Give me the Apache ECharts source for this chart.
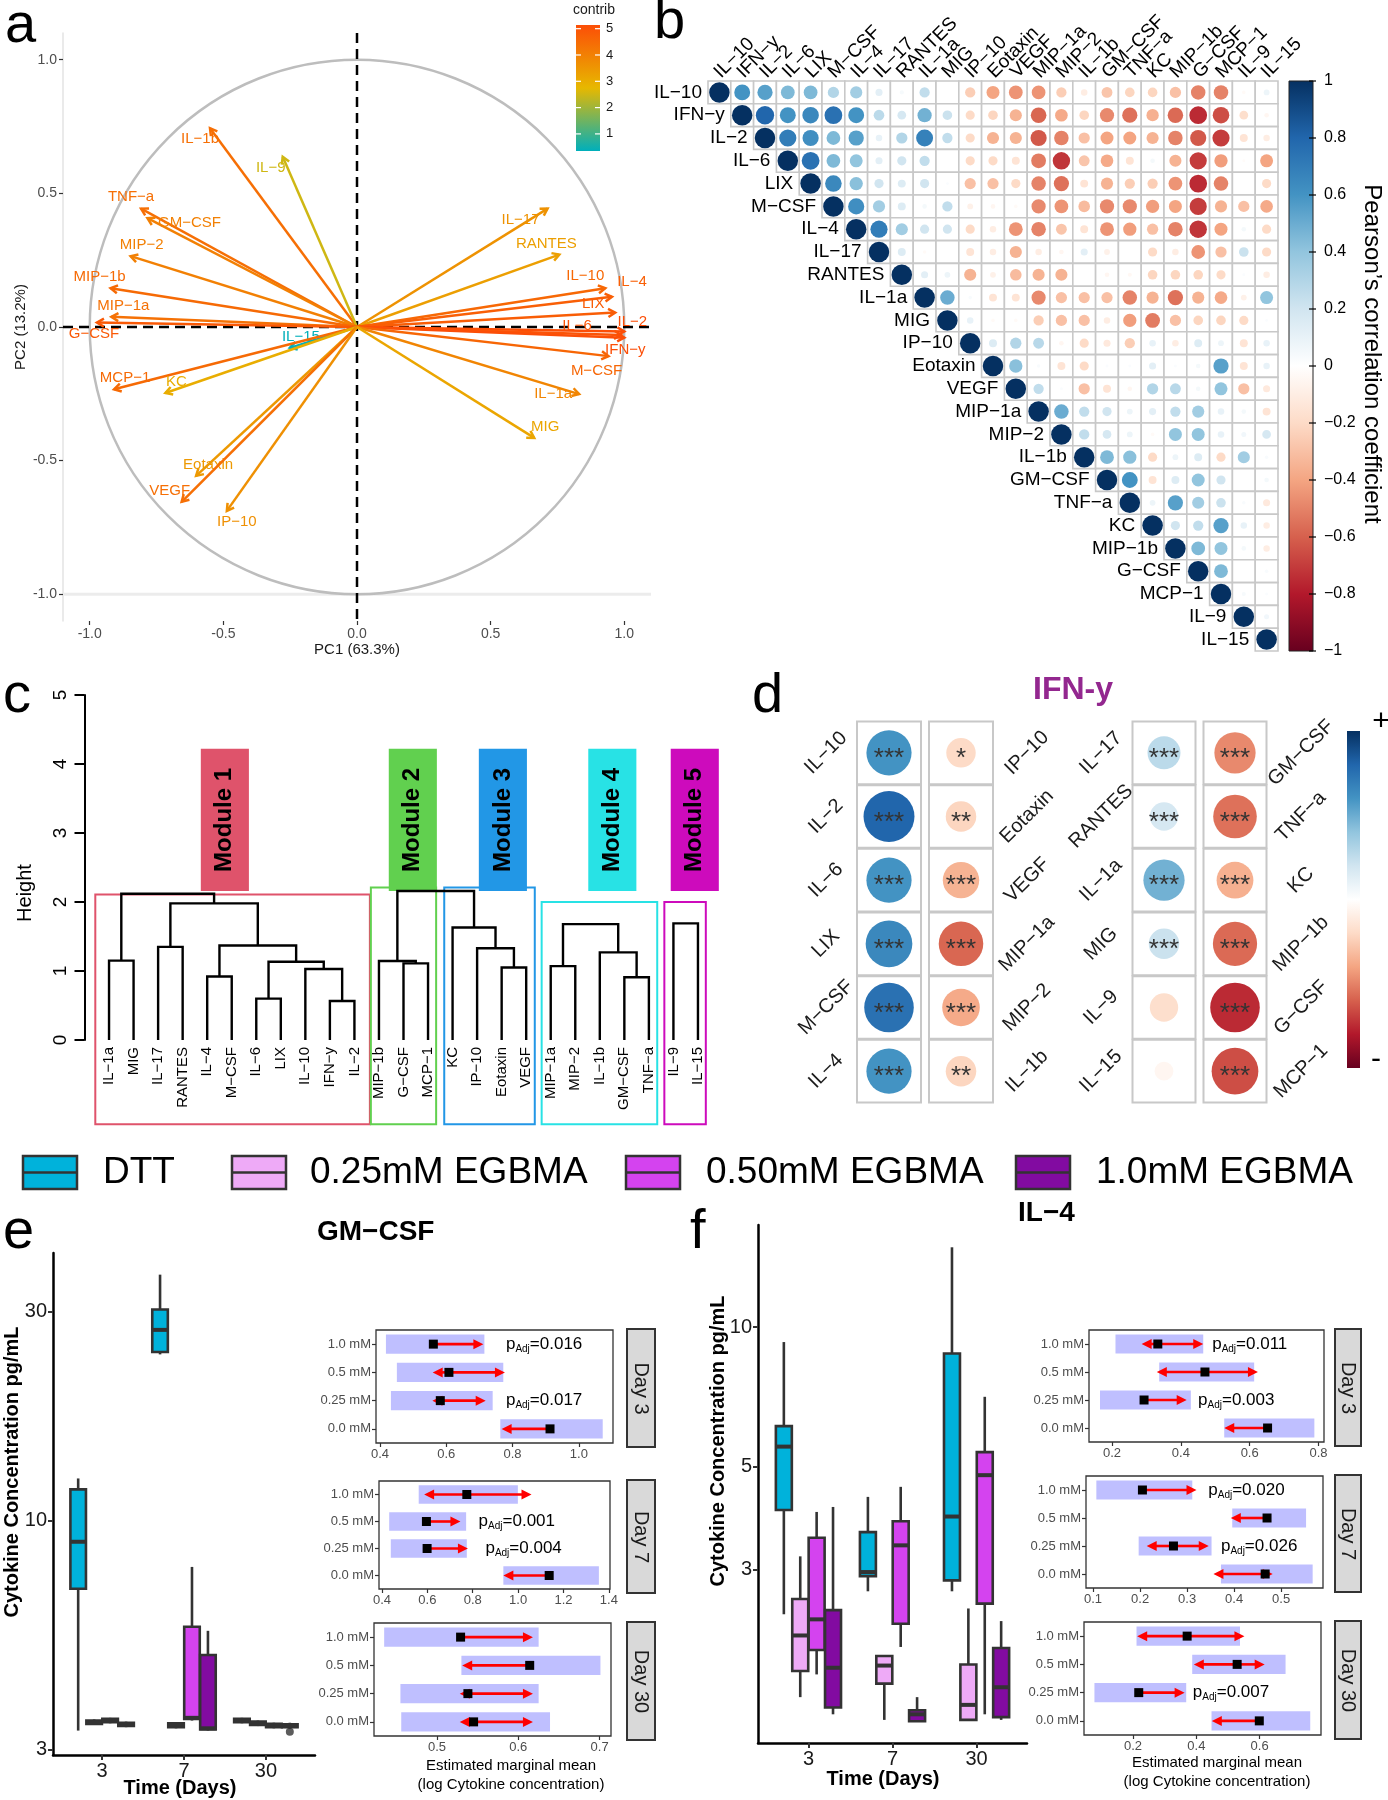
<!DOCTYPE html>
<html><head><meta charset="utf-8">
<script src="https://cdn.jsdelivr.net/npm/echarts@6.0.0/dist/echarts.min.js"></script>
<style>html,body{margin:0;padding:0;background:#fff;}#chart{width:1388px;height:1800px;}</style>
</head><body><div id="chart"></div>
<script>
// ======================= DATA =======================
// ---- Panel a : PCA variable loadings ----
const pcaVars = ['IL-1b','IL-9','TNF-a','GM-CSF','MIP-2','MIP-1b','MIP-1a','G-CSF','IL-15','MCP-1','KC','Eotaxin','VEGF','IP-10','IL-17','RANTES','IL-10','IL-4','LIX','IL-2','IL-6','IFN-y','M-CSF','IL-1a','MIG'];
const pcaDim1 = [-0.55,-0.278,-0.808,-0.784,-0.847,-0.922,-0.919,-0.973,-0.251,-0.909,-0.717,-0.602,-0.656,-0.487,0.713,0.757,0.929,0.954,0.966,1.0,0.988,1.0,0.941,0.831,0.663];
const pcaDim2 = [0.744,0.637,0.443,0.407,0.265,0.145,0.038,0.017,-0.078,-0.233,-0.247,-0.557,-0.654,-0.688,0.443,0.271,0.145,0.113,0.054,-0.017,-0.03,-0.04,-0.109,-0.251,-0.415];
const pcaContrib = [4.4,2.5,4.4,4.0,4.0,4.5,4.35,4.9,0.36,4.5,3.0,3.45,4.4,3.65,3.6,3.3,4.55,4.75,4.8,5.14,5.0,5.14,4.6,3.9,3.15];
const pcaTicks = [-1,-0.5,0,0.5,1];
const contribRange = [0.35,5.14];
const contribTicks = [1,2,3,4,5];
const pcaTitles = ['PC1 (63.3%)','PC2 (13.2%)'];

// ---- Panel b : Pearson correlation (upper triangle, row i from column i) ----
const corrVars = ['IL-10','IFN-y','IL-2','IL-6','LIX','M-CSF','IL-4','IL-17','RANTES','IL-1a','MIG','IP-10','Eotaxin','VEGF','MIP-1a','MIP-2','IL-1b','GM-CSF','TNF-a','KC','MIP-1b','G-CSF','MCP-1','IL-9','IL-15'];
const corrUpper = [
 [1,0.6,0.55,0.45,0.45,0.3,0.35,0.12,0.04,0.25,0.0,-0.25,-0.4,-0.45,-0.45,-0.25,-0.1,-0.28,-0.22,-0.22,-0.3,-0.5,-0.5,-0.03,0.08],
 [1,0.8,0.6,0.65,0.75,0.6,0.27,0.18,0.48,0.22,-0.2,-0.22,-0.35,-0.58,-0.38,-0.22,-0.48,-0.55,-0.36,-0.57,-0.75,-0.65,-0.18,-0.05],
 [1,0.7,0.62,0.45,0.55,0.1,0.3,0.68,0.25,-0.2,-0.35,-0.35,-0.62,-0.5,-0.3,-0.4,-0.4,-0.35,-0.5,-0.62,-0.7,-0.15,-0.1],
 [1,0.75,0.45,0.4,0.12,0.2,0.25,0.0,-0.2,-0.2,-0.15,-0.52,-0.72,-0.28,-0.38,-0.15,0.05,-0.35,-0.7,-0.42,-0.02,-0.4],
 [1,0.65,0.42,0.2,0.15,0.2,0.02,-0.3,-0.3,-0.2,-0.5,-0.55,-0.15,-0.35,-0.25,-0.25,-0.45,-0.75,-0.5,0.0,-0.2],
 [1,0.62,0.35,0.15,0.05,0.25,-0.08,-0.05,-0.03,-0.48,-0.45,-0.32,-0.48,-0.48,-0.42,-0.4,-0.7,-0.35,-0.3,-0.38],
 [1,0.7,0.35,0.2,0.2,-0.2,-0.1,-0.45,-0.5,-0.28,-0.15,-0.45,-0.42,-0.3,-0.5,-0.72,-0.4,0.05,-0.2],
 [1,0.15,-0.03,0.0,-0.15,-0.1,-0.35,-0.1,-0.05,0.12,-0.08,0.0,-0.2,-0.1,-0.45,-0.3,0.22,-0.2],
 [1,0.12,0.08,-0.35,-0.08,-0.32,-0.35,-0.35,0.0,-0.05,-0.04,-0.22,-0.22,-0.22,-0.2,0.02,-0.1],
 [1,0.5,0.03,-0.15,-0.15,-0.48,-0.3,-0.3,-0.3,-0.5,-0.35,-0.55,-0.35,-0.38,-0.08,0.4],
 [1,0.1,-0.03,-0.03,-0.25,-0.3,-0.3,-0.1,-0.42,-0.52,-0.3,-0.22,-0.22,-0.2,0.02],
 [1,0.15,0.3,0.28,-0.05,-0.2,-0.12,-0.25,0.1,-0.1,0.15,0.08,-0.15,0.1],
 [1,0.42,0.03,-0.15,-0.2,0.02,0.02,0.12,0.02,0.05,0.55,-0.15,0.1],
 [1,0.25,0.02,-0.3,-0.15,-0.05,0.3,0.28,0.05,0.4,-0.3,-0.12],
 [1,0.5,0.25,0.2,0.08,0.12,0.25,0.35,0.1,0.05,-0.15],
 [1,0.25,0.18,0.08,-0.03,0.4,0.4,0.1,0.06,0.18],
 [1,0.45,0.42,-0.2,0.08,0.15,-0.2,0.35,0.03],
 [1,0.6,-0.15,0.15,0.4,0.2,0.0,0.05],
 [1,0.08,0.55,0.35,0.22,0.03,-0.12],
 [1,0.2,0.25,0.55,0.1,-0.1],
 [1,0.45,0.4,0.05,-0.1],
 [1,0.45,0.0,0.03],
 [1,0.04,0.02],
 [1,0.06],
 [1]
];
const corrTicks = [1,0.8,0.6,0.4,0.2,0,-0.2,-0.4,-0.6,-0.8,-1];

// ---- Panel c : hierarchical clustering ----
const leafOrder = ['IL-1a','MIG','IL-17','RANTES','IL-4','M-CSF','IL-6','LIX','IL-10','IFN-y','IL-2','MIP-1b','G-CSF','MCP-1','KC','IP-10','Eotaxin','VEGF','MIP-1a','MIP-2','IL-1b','GM-CSF','TNF-a','IL-9','IL-15'];
// [childA, childB, height] ; string = leaf, number = index of an earlier merge
const dendroMerges = [
 ['IFN-y','IL-2',0.565],['IL-6','LIX',0.60],['GM-CSF','TNF-a',0.91],['IL-4','M-CSF',0.92],
 ['IL-10',0,1.03],['Eotaxin','VEGF',1.05],['MIP-1a','MIP-2',1.07],['G-CSF','MCP-1',1.11],
 [1,4,1.135],['MIP-1b',7,1.145],['IL-1a','MIG',1.15],['IL-1b',2,1.27],['IP-10',5,1.33],
 ['IL-17','RANTES',1.35],[3,8,1.37],['KC',12,1.63],[6,11,1.68],['IL-9','IL-15',1.69],
 [13,14,1.98],[10,18,2.12],[9,15,2.16]
];
const moduleNames = ['Module 1','Module 2','Module 3','Module 4','Module 5'];
const moduleSpan = [[-0.56,10.63],[10.67,13.33],[13.66,17.35],[17.63,22.34],[22.63,24.32]];
const moduleCut = [2.11,2.21,2.21,2.0,2.0];
const heightTicks = [0,1,2,3,4,5];

// ---- Panel d : correlations with IFN-y ----
const dFocal = 'IFN-y';
const dCol1 = ['IL-10','IL-2','IL-6','LIX','M-CSF','IL-4'];
const dCol2 = ['IP-10','Eotaxin','VEGF','MIP-1a','MIP-2','IL-1b'];
const dCol3 = ['IL-17','RANTES','IL-1a','MIG','IL-9','IL-15'];
const dCol4 = ['GM-CSF','TNF-a','KC','MIP-1b','G-CSF','MCP-1'];
const dStars1 = ['***','***','***','***','***','***'];
const dStars2 = ['*','**','***','***','***','**'];
const dStars3 = ['***','***','***','***','',''];
const dStars4 = ['***','***','***','***','***','***'];

// ---- Panels e, f : cytokine concentration boxplots (min, Q1, median, Q3, max) ----
const days = ['3','7','30'];
const groups = ['DTT','0.25mM EGBMA','0.50mM EGBMA','1.0mM EGBMA'];
const gmDTT = [[3.32,7.0,8.96,11.8,12.5],[24.0,24.3,27.3,30.4,36.5],[3.45,3.47,3.50,3.53,3.55]];
const gm025 = [[3.42,3.44,3.47,3.50,3.52],[3.36,3.38,3.42,3.45,3.47],[3.40,3.42,3.45,3.48,3.50]];
const gm050 = [[3.45,3.47,3.50,3.53,3.55],[3.50,3.53,3.55,5.73,7.85],[3.36,3.38,3.41,3.44,3.46]];
const gm100 = [[3.38,3.40,3.43,3.46,3.48],[3.32,3.34,3.36,4.94,5.61],[3.35,3.38,3.40,3.43,3.46]];
const gmOutliers = [[2,3,3.30]]; // [day index, group index, value]
const gmTicks = [3,10,30];
const gmRange = [2.92,40.9];
const il4DTT = [[2.40,4.03,5.52,6.11,9.28],[2.69,2.90,2.96,3.61,4.30],[2.69,2.84,3.90,8.77,14.86]];
const il4025 = [[1.59,1.81,2.16,2.59,3.20],[1.42,1.70,1.86,1.95,1.96],[1.42,1.42,1.53,1.87,2.47]];
const il4050 = [[1.78,2.01,2.34,3.51,3.99],[2.04,2.29,3.38,3.81,4.52],[1.46,2.53,4.79,5.37,7.07]];
const il4100 = [[1.46,1.51,1.84,2.45,4.09],[1.41,1.41,1.46,1.49,1.59],[1.42,1.44,1.67,2.03,2.32]];
const il4Ticks = [3,5,10];
const il4Range = [1.266,16.6];

// ---- estimated marginal means (levels bottom->top), CI and comparison arrows ----
const emmLevels = ['0.0 mM','0.25 mM','0.5 mM','1.0 mM'];
const gmDay3  = {mean:[0.913,0.582,0.608,0.561], lcl:[0.763,0.433,0.451,0.418], ucl:[1.072,0.740,0.772,0.715], lo:[0.767,0.558,0.559,null], hi:[null,0.719,0.777,0.712]};
const gmDay7  = {mean:[1.137,0.599,0.596,0.774], lcl:[0.935,0.439,0.432,0.562], ucl:[1.356,0.774,0.771,0.999], lo:[0.935,null,null,0.586], hi:[null,0.779,0.746,1.059]};
const gmDay30 = {mean:[0.545,0.538,0.614,0.529], lcl:[0.456,0.455,0.530,0.435], ucl:[0.639,0.625,0.701,0.625], lo:[0.528,0.528,0.531,null], hi:[0.618,0.618,null,0.618]};
const il4Day3  = {mean:[0.652,0.293,0.470,0.333], lcl:[0.526,0.165,0.337,0.210], ucl:[0.788,0.429,0.613,0.465], lo:[0.526,null,0.330,0.286], hi:[null,0.417,0.624,0.465]};
const il4Day7  = {mean:[0.466,0.271,0.470,0.205], lcl:[0.372,0.197,0.396,0.107], ucl:[0.567,0.352,0.553,0.311], lo:[0.356,0.214,0.393,null], hi:[0.482,0.346,null,0.320]};
const il4Day30 = {mean:[0.599,0.218,0.529,0.371], lcl:[0.448,0.078,0.387,0.211], ucl:[0.760,0.368,0.682,0.538], lo:[0.449,null,0.392,0.213], hi:[null,0.363,0.616,0.552]};
// adjusted p-values: [x (emmean scale), level index, value]
const gmDay3P = [[0.78,3,'0.016'],[0.78,1,'0.017']];
const gmDay7P = [[0.826,2,'0.001'],[0.856,1,'0.004']];
const il4Day3P = [[0.491,3,'0.011'],[0.450,1,'0.003']];
const il4Day7P = [[0.345,3,'0.020'],[0.372,1,'0.026']];
const il4Day30P = [[0.389,1,'0.007']];
const gmXTicks = [[0.4,0.6,0.8,1.0],[0.4,0.6,0.8,1.0,1.2,1.4],[0.5,0.6,0.7]];
const gmXRange = [[0.388,1.103],[0.387,1.405],[0.4225,0.714]];
const il4XTicks = [[0.2,0.4,0.6,0.8],[0.1,0.2,0.3,0.4,0.5],[0.2,0.4,0.6]];
const il4XRange = [[0.133,0.816],[0.085,0.589],[0.045,0.794]];

// ======================= STYLE / LAYOUT =======================
const FONT = '"Liberation Sans", Arial, Helvetica, sans-serif';
const minus = s => String(s).replace(/-/g, '\u2212');
const RDBU = ['#67001F','#B2182B','#D6604D','#F4A582','#FDDBC7','#FFFFFF','#D1E5F0','#92C5DE','#4393C3','#2166AC','#053061'];
const CONTRIB_COLORS = ['#00AFBB','#E7B800','#FC4E07'];
const groupColors = ['#00B2DB','#EEAAF7','#D443EF','#820BA1'];
const moduleColors = ['#DF536B','#61D04F','#2297E6','#28E2E5','#CD0BBC'];
const G = {
  a:{left:63,top:33,width:588,height:588},
  b:{left:708,top:81,width:570,height:570},
  c:{left:84.5,top:695,width:638,height:345},
  dL:{left:853,top:721,width:144,height:382},
  dR:{left:1128.5,top:721,width:142,height:382},
  eBox:{left:53,top:1253,width:262,height:502},
  eF1:{left:376,top:1330,width:237,height:113},
  eF2:{left:379,top:1481,width:231,height:108},
  eF3:{left:374,top:1623,width:237,height:113},
  fBox:{left:758,top:1225,width:269,height:518},
  fF1:{left:1089,top:1330,width:235,height:112},
  fF2:{left:1086,top:1476,width:237,height:112},
  fF3:{left:1084,top:1622,width:237,height:113}
};
const pcaLabelNudge = {
 'IL-1b':[-10,11],'IL-9':[-12,11],'TNF-a':[-10,-12],'GM-CSF':[42,5],'MIP-2':[11,-11],'MIP-1b':[-11,-11],
 'MIP-1a':[12,-11],'G-CSF':[-3,11],'IL-15':[11,-11],'MCP-1':[11,-11],'KC':[11,-11],'Eotaxin':[12,-11],
 'VEGF':[-12,-11],'IP-10':[10,11],'IL-17':[-27,11],'RANTES':[-13,-11],'IL-10':[-20,-12],'IL-4':[20,-15],
 'LIX':[-22,-9],'IL-2':[8,-10],'IL-6':[-44,-9],'IFN-y':[1,12],'M-CSF':[-12,15],'IL-1a':[-26,0],'MIG':[11,-11]
};
const BOX_DODGE = 0.195, BOX_W = 0.19;
const MODULE_BOX_BOTTOM = -1.22;
const moduleTagX = [4.72,12.38,16.05,20.51,23.87];
const moduleTagH = [2.16,4.22];

// ======================= BUILD =======================
const gridKeys = ['a','b','c','dL','dR','eBox','eF1','eF2','eF3','fBox','fF1','fF2','fF3'];
const grids = gridKeys.map(k => Object.assign({outerBoundsMode:'none', containLabel:false}, G[k]));
[6,7,8,10,11,12].forEach(i => Object.assign(grids[i], {show:true, borderColor:'#333', borderWidth:1.3, backgroundColor:'rgba(0,0,0,0)'}));
const xAxes = [], yAxes = [];
const hidden = {show:false};

// a
xAxes[0] = {gridIndex:0, type:'value', min:-1.1, max:1.1, splitLine:hidden, axisLine:{show:false, onZero:false},
  axisTick:{show:true, customValues:pcaTicks, length:4, lineStyle:{color:'#333', width:1.2}},
  axisLabel:{customValues:pcaTicks, formatter:v=>v.toFixed(1), color:'#4d4d4d', fontSize:14, fontFamily:FONT, margin:6}};
yAxes[0] = {gridIndex:0, type:'value', min:-1.1, max:1.1, splitLine:hidden, axisLine:{show:true, onZero:false, lineStyle:{color:'#e3e3e3', width:1.5}},
  axisTick:{show:true, customValues:pcaTicks, length:4, lineStyle:{color:'#333', width:1.2}},
  axisLabel:{customValues:pcaTicks, formatter:v=>v.toFixed(1), color:'#4d4d4d', fontSize:14, fontFamily:FONT, margin:6}};
// b
xAxes[1] = {gridIndex:1, type:'category', data:corrVars, show:false};
yAxes[1] = {gridIndex:1, type:'category', data:corrVars, inverse:true, show:false};
// c
xAxes[2] = {gridIndex:2, type:'value', min:-1, max:25, show:false};
yAxes[2] = {gridIndex:2, type:'value', min:0, max:5, splitLine:hidden,
  axisLine:{show:true, onZero:false, lineStyle:{color:'#000', width:2}},
  axisTick:{show:true, customValues:heightTicks, length:10, lineStyle:{color:'#000', width:2}},
  axisLabel:{customValues:heightTicks, rotate:90, fontSize:19, color:'#000', fontFamily:FONT, margin:14}};
// d
[3,4].forEach(i => {
  xAxes[i] = {gridIndex:i, type:'category', data:['l','r'], show:false};
  yAxes[i] = {gridIndex:i, type:'category', data:[0,1,2,3,4,5], inverse:true, show:false};
});
// boxplot axes
function boxX(gi){
  return {gridIndex:gi, type:'value', min:0.4, max:3.6, splitLine:hidden,
    axisLine:{show:true, onZero:false, lineStyle:{color:'#000', width:2.5}},
    axisTick:{show:true, customValues:[1,2,3], length:5, lineStyle:{color:'#333', width:2}},
    axisLabel:{customValues:[1,2,3], formatter:v=>days[Math.round(v)-1], color:'#1a1a1a', fontSize:20, fontFamily:FONT, margin:6}};
}
function boxY(gi, range, ticks){
  const tv = ticks.map(t => Math.log10(t));
  return {gridIndex:gi, type:'value', min:Math.log10(range[0]), max:Math.log10(range[1]), splitLine:hidden,
    axisLine:{show:true, onZero:false, lineStyle:{color:'#000', width:2.5}},
    axisTick:{show:true, customValues:tv, length:5, lineStyle:{color:'#333', width:2}},
    axisLabel:{customValues:tv, formatter:v=>String(Math.round(Math.pow(10,v))), color:'#1a1a1a', fontSize:20, fontFamily:FONT, margin:6}};
}
function emmX(gi, range, ticks){
  return {gridIndex:gi, type:'value', min:range[0], max:range[1], splitLine:hidden, axisLine:{show:false, onZero:false},
    axisTick:{show:true, customValues:ticks, length:4, lineStyle:{color:'#333', width:1.2}},
    axisLabel:{customValues:ticks, formatter:v=>v.toFixed(1), color:'#4d4d4d', fontSize:13, fontFamily:FONT, margin:5}};
}
function emmY(gi){
  return {gridIndex:gi, type:'category', data:emmLevels, splitLine:hidden, axisLine:{show:false, onZero:false},
    axisTick:{show:true, alignWithLabel:true, length:4, lineStyle:{color:'#333', width:1.2}},
    axisLabel:{color:'#4d4d4d', fontSize:13, fontFamily:FONT, margin:5}};
}
xAxes[5] = boxX(5); yAxes[5] = boxY(5, gmRange, gmTicks);
xAxes[9] = boxX(9); yAxes[9] = boxY(9, il4Range, il4Ticks);
[6,7,8].forEach((gi,k) => { xAxes[gi] = emmX(gi, gmXRange[k], gmXTicks[k]); yAxes[gi] = emmY(gi); });
[10,11,12].forEach((gi,k) => { xAxes[gi] = emmX(gi, il4XRange[k], il4XTicks[k]); yAxes[gi] = emmY(gi); });

const series = [];
function add(s){ series.push(Object.assign({type:'custom', coordinateSystem:'cartesian2d', silent:true, clip:false}, s)); return series.length-1; }

// ---- a: circle + dashed zero lines + faint guide at -1 ----
add({xAxisIndex:0, yAxisIndex:0, z:1, data:[[0,0]], renderItem:(params, api) => {
  const o = api.coord([0,0]); const cs = params.coordSys; const r = api.size([1,1]);
  const yLow = api.coord([0, pcaTicks[0]])[1];
  const dash = {stroke:'#000', lineWidth:2.5, lineDash:[10,6]};
  return {type:'group', children:[
    {type:'line', shape:{x1:cs.x, y1:yLow, x2:cs.x+cs.width, y2:yLow}, style:{stroke:'#ececec', lineWidth:3}},
    {type:'circle', shape:{cx:o[0], cy:o[1], r:r[0]}, style:{fill:'none', stroke:'#BDBDBD', lineWidth:2.5}},
    {type:'line', shape:{x1:o[0], y1:cs.y, x2:o[0], y2:cs.y+cs.height}, style:dash},
    {type:'line', shape:{x1:cs.x, y1:o[1], x2:cs.x+cs.width, y2:o[1]}, style:dash}
  ]};
}});
// ---- a: arrows ----
const sArrow = add({xAxisIndex:0, yAxisIndex:0, z:2,
  data: pcaVars.map((n,i) => [pcaDim1[i], pcaDim2[i], pcaContrib[i]]),
  renderItem:(params, api) => {
    const p0 = api.coord([0,0]); const p1 = api.coord([api.value(0), api.value(1)]);
    const col = api.visual('color');
    const ang = Math.atan2(p1[1]-p0[1], p1[0]-p0[0]); const Lh = 8, A = Math.PI/6;
    const h1 = [p1[0]-Lh*Math.cos(ang-A), p1[1]-Lh*Math.sin(ang-A)];
    const h2 = [p1[0]-Lh*Math.cos(ang+A), p1[1]-Lh*Math.sin(ang+A)];
    const name = pcaVars[params.dataIndex]; const nd = pcaLabelNudge[name] || [0,0];
    return {type:'group', children:[
      {type:'line', shape:{x1:p0[0], y1:p0[1], x2:p1[0], y2:p1[1]}, style:{stroke:col, lineWidth:2.5}},
      {type:'polyline', shape:{points:[h1,p1,h2]}, style:{stroke:col, lineWidth:2.5, fill:'none'}},
      {type:'text', x:p1[0]+nd[0], y:p1[1]+nd[1], style:{text:minus(name), fill:col, fontSize:15, fontFamily:FONT, align:'center', verticalAlign:'middle'}}
    ]};
  }});

// ---- b: correlation circles ----
const corrData = [];
corrUpper.forEach((row, i) => row.forEach((r, k) => corrData.push([i+k, i, r])));
const sCorr = add({xAxisIndex:1, yAxisIndex:1, data:corrData, renderItem:(params, api) => {
  const j = api.value(0), i = api.value(1), r = api.value(2);
  const c = api.coord([j, i]); const s = api.size([1,1]); const w = s[0], h = s[1];
  const ch = [
    {type:'rect', shape:{x:c[0]-w/2, y:c[1]-h/2, width:w, height:h}, style:{fill:'#fff', stroke:'#C8C8C8', lineWidth:1.6}},
    {type:'circle', shape:{cx:c[0], cy:c[1], r:0.45*Math.sqrt(Math.abs(r))*w}, style:{fill:api.visual('color')}}
  ];
  if (i === j) ch.push({type:'text', x:c[0]-w/2-6, y:c[1], style:{text:minus(corrVars[i]), fill:'#000', fontSize:19, fontFamily:FONT, align:'right', verticalAlign:'middle'}});
  if (i === 0) ch.push({type:'text', x:c[0]-2, y:params.coordSys.y-6, rotation:Math.PI/4, style:{text:minus(corrVars[j]), fill:'#000', fontSize:19, fontFamily:FONT, align:'left', verticalAlign:'middle'}});
  return {type:'group', children:ch};
}});

// ---- c: dendrogram ----
const mergePos = [];
function nodePos(ref){ return typeof ref === 'string' ? [leafOrder.indexOf(ref), 0] : mergePos[ref]; }
const dendroData = dendroMerges.map(m => {
  const a = nodePos(m[0]), b = nodePos(m[1]);
  mergePos.push([(a[0]+b[0])/2, m[2]]);
  return [a[0], a[1], b[0], b[1], m[2]];
});
add({xAxisIndex:2, yAxisIndex:2, z:3, data:dendroData, renderItem:(params, api) => {
  const h = api.value(4);
  const pts = [api.coord([api.value(0), api.value(1)]), api.coord([api.value(0), h]), api.coord([api.value(2), h]), api.coord([api.value(2), api.value(3)])];
  return {type:'polyline', shape:{points:pts}, style:{stroke:'#000', lineWidth:2.4, fill:'none'}};
}});
add({xAxisIndex:2, yAxisIndex:2, data:leafOrder.map((n,i)=>[i,0]), renderItem:(params, api) => {
  const p = api.coord([api.value(0), 0]);
  return {type:'text', x:p[0], y:p[1]+7, rotation:Math.PI/2, style:{text:minus(leafOrder[params.dataIndex]), fill:'#000', fontSize:15, fontFamily:FONT, align:'right', verticalAlign:'middle'}};
}});
add({xAxisIndex:2, yAxisIndex:2, z:2, data:moduleSpan.map((s,k)=>[s[0], moduleCut[k], s[1]]), renderItem:(params, api) => {
  const k = params.dataIndex;
  const p0 = api.coord([api.value(0), api.value(1)]), p1 = api.coord([api.value(2), MODULE_BOX_BOTTOM]);
  const t0 = api.coord([moduleTagX[k], moduleTagH[1]]), t1 = api.coord([moduleTagX[k], moduleTagH[0]]);
  const tw = api.size([1.96, 0])[0];
  return {type:'group', children:[
    {type:'rect', shape:{x:p0[0], y:p0[1], width:p1[0]-p0[0], height:p1[1]-p0[1]}, style:{fill:'none', stroke:moduleColors[k], lineWidth:2}},
    {type:'rect', shape:{x:t0[0]-tw/2, y:t0[1], width:tw, height:t1[1]-t0[1]}, style:{fill:moduleColors[k]}},
    {type:'text', x:t0[0], y:(t0[1]+t1[1])/2, rotation:Math.PI/2, style:{text:moduleNames[k], fill:'#000', fontSize:24, fontWeight:'bold', fontFamily:FONT, align:'center', verticalAlign:'middle'}}
  ]};
}});

// ---- d: correlations with focal cytokine ----
function corrOf(a, b){ let i = corrVars.indexOf(a), j = corrVars.indexOf(b); if (i > j) { const t = i; i = j; j = t; } return corrUpper[i][j-i]; }
function dItems(cols, stars){
  const items = [];
  cols.forEach((col, c) => col.forEach((name, r) => items.push({name, stars:stars[c][r], col:c, row:r, side:c===0?-1:1, v:corrOf(dFocal, name)})));
  return items;
}
const dLeftItems = dItems([dCol1, dCol2], [dStars1, dStars2]);
const dRightItems = dItems([dCol3, dCol4], [dStars3, dStars4]);
function dRender(items){
  return (params, api) => {
    const it = items[params.dataIndex];
    const c = api.coord([api.value(0), api.value(1)]); const s = api.size([1,1]);
    const w = s[0]-8, h = s[1]-1; const r = api.value(2);
    const dia = 8 + 48*Math.sqrt(Math.abs(r));
    const ch = [
      {type:'rect', shape:{x:c[0]-w/2, y:c[1]-h/2, width:w, height:h}, style:{fill:'#fff', stroke:'#C8C8C8', lineWidth:2}},
      {type:'circle', shape:{cx:c[0], cy:c[1], r:dia/2}, style:{fill:api.visual('color')}},
      {type:'text', x:c[0]+(it.side<0?-63:66), y:c[1], rotation:Math.PI/4, style:{text:minus(it.name), fill:'#1a1a1a', fontSize:20, fontFamily:FONT, align:'center', verticalAlign:'middle'}}
    ];
    if (it.stars) ch.push({type:'text', x:c[0], y:c[1]+6, style:{text:it.stars, fill:'#333', fontSize:26, fontFamily:FONT, align:'center', verticalAlign:'middle'}});
    return {type:'group', children:ch};
  };
}
const sDL = add({xAxisIndex:3, yAxisIndex:3, data:dLeftItems.map(o=>[o.col, o.row, o.v]), renderItem:dRender(dLeftItems)});
const sDR = add({xAxisIndex:4, yAxisIndex:4, data:dRightItems.map(o=>[o.col, o.row, o.v]), renderItem:dRender(dRightItems)});

// ---- e, f: boxplots ----
function boxRender(g){
  return (params, api) => {
    const x = api.value(0) + (g-1.5)*BOX_DODGE;
    const q = [1,2,3,4,5].map(d => api.value(d));
    const y = q.map(v => api.coord([x, Math.log10(v)])[1]);
    const cx = api.coord([x, Math.log10(q[0])])[0];
    const hw = api.size([BOX_W, 0])[0]/2;
    const st = {stroke:'#333', lineWidth:2.6};
    return {type:'group', children:[
      {type:'line', shape:{x1:cx, y1:y[4], x2:cx, y2:y[3]}, style:st},
      {type:'line', shape:{x1:cx, y1:y[1], x2:cx, y2:y[0]}, style:st},
      {type:'rect', shape:{x:cx-hw, y:y[3], width:2*hw, height:Math.max(y[1]-y[3],1)}, style:{fill:groupColors[g], stroke:'#333', lineWidth:2.6}},
      {type:'line', shape:{x1:cx-hw, y1:y[2], x2:cx+hw, y2:y[2]}, style:{stroke:'#333', lineWidth:4}}
    ]};
  };
}
[gmDTT, gm025, gm050, gm100].forEach((arr, g) => add({xAxisIndex:5, yAxisIndex:5, z:3, data:arr.map((q,k)=>[k+1].concat(q)), renderItem:boxRender(g)}));
series.push({type:'scatter', xAxisIndex:5, yAxisIndex:5, silent:true, z:4, symbolSize:8, itemStyle:{color:'#333'},
  data:gmOutliers.map(o => [o[0]+1+(o[1]-1.5)*BOX_DODGE, Math.log10(o[2])])});
[il4DTT, il4025, il4050, il4100].forEach((arr, g) => add({xAxisIndex:9, yAxisIndex:9, z:3, data:arr.map((q,k)=>[k+1].concat(q)), renderItem:boxRender(g)}));

// ---- e, f: estimated marginal means ----
function emmRender(fac){
  return (params, api) => {
    const k = params.dataIndex;
    const band = api.size([0,1])[1];
    const pm = api.coord([fac.mean[k], k]), pl = api.coord([fac.lcl[k], k]), pu = api.coord([fac.ucl[k], k]);
    const bh = band*0.68;
    const ch = [{type:'rect', shape:{x:pl[0], y:pm[1]-bh/2, width:pu[0]-pl[0], height:bh}, style:{fill:'#BFBFFF'}}];
    [fac.lo[k], fac.hi[k]].forEach(t => {
      if (t === null || t === undefined) return;
      const pt = api.coord([t, k]); const d = pt[0] > pm[0] ? 1 : -1;
      ch.push({type:'line', shape:{x1:pm[0], y1:pm[1], x2:pt[0]-d*6, y2:pm[1]}, style:{stroke:'#FF0000', lineWidth:2.6}});
      ch.push({type:'polygon', shape:{points:[[pt[0],pm[1]],[pt[0]-d*10,pm[1]-5],[pt[0]-d*10,pm[1]+5]]}, style:{fill:'#FF0000'}});
    });
    ch.push({type:'rect', shape:{x:pm[0]-4.5, y:pm[1]-4.5, width:9, height:9}, style:{fill:'#000'}});
    return {type:'group', children:ch};
  };
}
function pRender(list){
  return (params, api) => {
    const p = api.coord([api.value(0), api.value(1)]);
    return {type:'text', x:p[0], y:p[1], style:{text:'{a|p}{b|Adj}{a|=' + list[params.dataIndex][2] + '}', align:'left', verticalAlign:'middle',
      rich:{a:{fontSize:17, fontFamily:FONT, fill:'#000', lineHeight:20}, b:{fontSize:10, fontFamily:FONT, fill:'#000', verticalAlign:'bottom', lineHeight:11}}}};
  };
}
[[6,gmDay3,gmDay3P],[7,gmDay7,gmDay7P],[8,gmDay30,null],[10,il4Day3,il4Day3P],[11,il4Day7,il4Day7P],[12,il4Day30,il4Day30P]].forEach(([gi, fac, pl]) => {
  add({xAxisIndex:gi, yAxisIndex:gi, z:3, data:fac.mean.map((m,k)=>[m,k]), renderItem:emmRender(fac)});
  if (pl) add({xAxisIndex:gi, yAxisIndex:gi, z:4, data:pl.map(p=>[p[0],p[1]]), renderItem:pRender(pl)});
});

// ======================= GRAPHIC (titles, legends) =======================
const gr = [];
function T(x, y, text, st, rot){ gr.push({type:'text', x, y, rotation:rot||0, z:50, style:Object.assign({text, fontFamily:FONT, fill:'#000', align:'center', verticalAlign:'middle'}, st||{})}); }
// panel letters
[['a',5,46],['b',654,42],['c',3,716],['d',752,716],['e',3,1252],['f',690,1252]].forEach(([l,x,b]) => T(x, b-0.35*56, l, {fontSize:56, align:'left'}));
// a titles + contrib legend
T(357, 650, pcaTitles[0], {fontSize:15, fill:'#1a1a1a'});
T(21, 327, pcaTitles[1], {fontSize:15, fill:'#1a1a1a'}, Math.PI/2);
const cb = {x:576, y:25, w:24, h:126};
gr.push({type:'rect', shape:{x:cb.x, y:cb.y, width:cb.w, height:cb.h}, style:{fill:{type:'linear', x:0, y:0, x2:0, y2:1, colorStops:[{offset:0,color:CONTRIB_COLORS[2]},{offset:0.5,color:CONTRIB_COLORS[1]},{offset:1,color:CONTRIB_COLORS[0]}]}}});
contribTicks.forEach(v => {
  const y = cb.y + (contribRange[1]-v)/(contribRange[1]-contribRange[0])*cb.h;
  gr.push({type:'line', shape:{x1:cb.x, y1:y, x2:cb.x+5, y2:y}, style:{stroke:'#fff', lineWidth:1.2}});
  gr.push({type:'line', shape:{x1:cb.x+cb.w-5, y1:y, x2:cb.x+cb.w, y2:y}, style:{stroke:'#fff', lineWidth:1.2}});
  T(cb.x+cb.w+6, y, String(v), {fontSize:13, align:'left', fill:'#1a1a1a'});
});
T(573, 10, 'contrib', {fontSize:14, align:'left', fill:'#1a1a1a'});
// b colour bar
const bb = {x:1289, y:81, w:24, h:570};
gr.push({type:'rect', shape:{x:bb.x, y:bb.y, width:bb.w, height:bb.h}, style:{stroke:'#222', lineWidth:1, fill:{type:'linear', x:0, y:0, x2:0, y2:1, colorStops:RDBU.slice().reverse().map((c,i)=>({offset:i/10, color:c}))}}});
corrTicks.forEach(v => {
  const y = bb.y + (1-v)/2*bb.h;
  gr.push({type:'line', shape:{x1:bb.x+bb.w-4, y1:y, x2:bb.x+bb.w+3, y2:y}, style:{stroke:'#000', lineWidth:1.2}});
  T(bb.x+bb.w+11, y, minus(String(v)), {fontSize:16, align:'left'});
});
T(1372, 354, 'Pearson\u2019s correlation coefficient', {fontSize:24}, -Math.PI/2);
// c
T(25, 893, 'Height', {fontSize:20}, Math.PI/2);
// d
T(1073, 690, dFocal, {fontSize:32, fontWeight:'bold', fill:'#93278F'});
gr.push({type:'rect', shape:{x:1347, y:731, width:13, height:337}, style:{fill:{type:'linear', x:0, y:0, x2:0, y2:1, colorStops:RDBU.slice().reverse().map((c,i)=>({offset:i/10, color:c}))}}});
T(1381, 722, '+', {fontSize:30});
T(1376, 1060, '-', {fontSize:30});
// legend
const legX = [23,232,626,1016], legTX = [103,310,706,1096];
groups.forEach((g,i) => {
  gr.push({type:'rect', shape:{x:legX[i], y:1156, width:54, height:33}, style:{fill:groupColors[i], stroke:'#333', lineWidth:2.5}});
  gr.push({type:'line', shape:{x1:legX[i], y1:1172.5, x2:legX[i]+54, y2:1172.5}, style:{stroke:'#333', lineWidth:2.5}});
  T(legTX[i], 1173, g, {fontSize:37, align:'left'});
});
// e / f titles
T(317, 1232, minus('GM-CSF'), {fontSize:28, fontWeight:'bold', align:'left'});
T(1018, 1213, minus('IL-4'), {fontSize:28, fontWeight:'bold', align:'left'});
T(12, 1472, 'Cytokine Concentration pg/mL', {fontSize:20, fontWeight:'bold'}, Math.PI/2);
T(180, 1788, 'Time (Days)', {fontSize:20, fontWeight:'bold'});
T(718, 1441, 'Cytokine Concentration pg/mL', {fontSize:20, fontWeight:'bold'}, Math.PI/2);
T(883, 1779, 'Time (Days)', {fontSize:20, fontWeight:'bold'});
T(511, 1766, 'Estimated marginal mean', {fontSize:15});
T(511, 1785, '(log Cytokine concentration)', {fontSize:15});
T(1217, 1763, 'Estimated marginal mean', {fontSize:15});
T(1217, 1782, '(log Cytokine concentration)', {fontSize:15});
// facet strips
function strip(g, label, sx, sw){
  gr.push({type:'rect', shape:{x:sx, y:g.top-1, width:sw, height:g.height+5}, style:{fill:'#D9D9D9', stroke:'#333', lineWidth:2}});
  T(sx+sw/2, g.top+g.height/2+2, label, {fontSize:20, fill:'#1a1a1a'}, -Math.PI/2);
}
['eF1','eF2','eF3'].forEach((k,i) => strip(G[k], 'Day ' + days[i], 627, 28));
['fF1','fF2','fF3'].forEach((k,i) => strip(G[k], 'Day ' + days[i], 1335, 26));

const option = {
  animation:false,
  backgroundColor:'#fff',
  textStyle:{fontFamily:FONT},
  grid:grids, xAxis:xAxes, yAxis:yAxes,
  visualMap:[
    {type:'continuous', show:false, seriesIndex:sArrow, dimension:2, min:contribRange[0], max:contribRange[1], inRange:{color:CONTRIB_COLORS}},
    {type:'continuous', show:false, seriesIndex:[sCorr, sDL, sDR], dimension:2, min:-1, max:1, inRange:{color:RDBU}}
  ],
  series:series,
  graphic:{elements:gr}
};
const chart = echarts.init(document.getElementById('chart'), null, {renderer:'canvas'});
chart.setOption(option);
</script></body></html>
